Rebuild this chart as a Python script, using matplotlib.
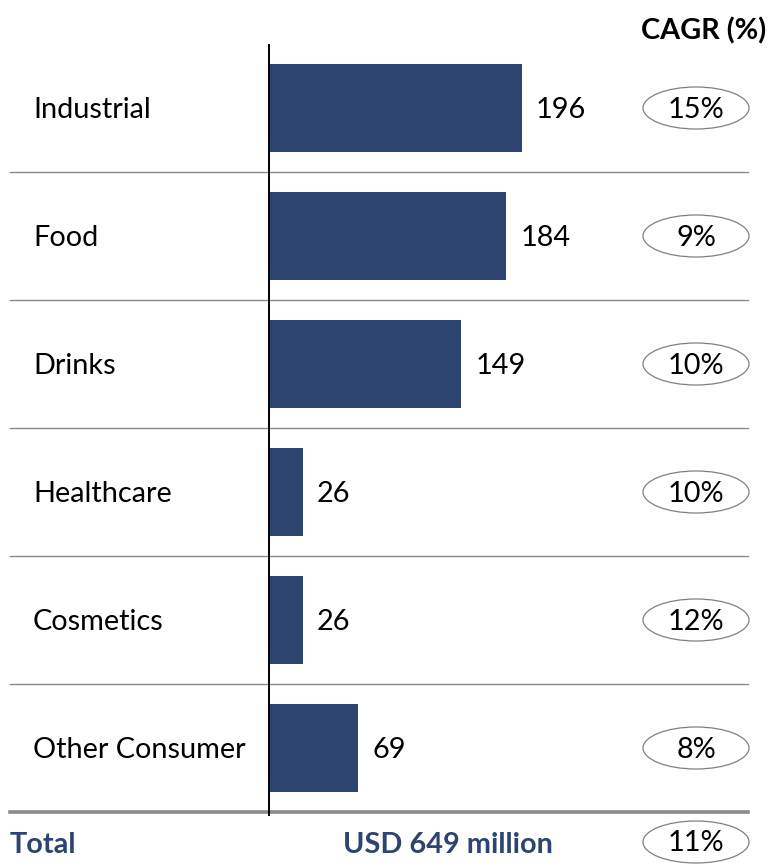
import matplotlib
matplotlib.use("Agg")
import matplotlib.pyplot as plt
from matplotlib.patches import Ellipse

categories = ["Industrial", "Food", "Drinks", "Healthcare", "Cosmetics", "Other Consumer"]
values = [196, 184, 149, 26, 26, 69]
cagr = ["15%", "9%", "10%", "10%", "12%", "8%"]
total_label = "Total"
total_value = "USD 649 million"
total_cagr = "11%"
header = "CAGR (%)"

W, H = 772, 865
px_per_unit = 1.29
row_px = 128
x0_px = 269
y0_px = 108

bar_color = "#2E4470"
fam = ["Lato", "DejaVu Sans"]

fig = plt.figure(figsize=(W / 100, H / 100), dpi=100)
ax = fig.add_axes([0, 0, 1, 1])
ax.set_xlim(-x0_px / px_per_unit, (W - x0_px) / px_per_unit)
ax.set_ylim((H - y0_px) / row_px, -y0_px / row_px)
ax.axis("off")

def px_x(p):
    return (p - x0_px) / px_per_unit

def px_y(p):
    return (p - y0_px) / row_px

ypos = list(range(len(categories)))
ax.barh(ypos, values, height=88 / row_px, color=bar_color, zorder=2)

fs = 20.8
dy = 2 / row_px
ell_cx = px_x(696)
ell_w = 106 / px_per_unit
ell_h = 42 / row_px
for i, (c, v, g) in enumerate(zip(categories, values, cagr)):
    ax.text(px_x(33), i + dy, c, ha="left", va="center", fontsize=fs, family=fam, color="black")
    ax.text(v + 14 / px_per_unit, i + dy, str(v), ha="left", va="center", fontsize=fs, family=fam, color="black")
    ax.add_patch(Ellipse((ell_cx, i), ell_w, ell_h, facecolor="white", edgecolor="#808080", lw=0.9, zorder=3))
    ax.text(ell_cx, i + dy, g, ha="center", va="center", fontsize=fs, family=fam, color="black", zorder=4)

for i in range(len(categories) - 1):
    ax.plot([px_x(10), px_x(748)], [i + 0.5, i + 0.5], color="#8a8a8a", lw=1.0, zorder=1)
ax.plot([px_x(10), px_x(748)], [len(categories) - 0.5] * 2, color="#8a8a8a", lw=2.6, zorder=1)

ax.plot([0, 0], [px_y(45), len(categories) - 0.5 + 0.02], color="black", lw=1.4, zorder=5)

ty = px_y(845)
ax.text(px_x(10), ty, total_label, ha="left", va="center", fontsize=fs, family=fam,
        fontweight="bold", color=bar_color)
ax.text(px_x(448), ty, total_value, ha="center", va="center", fontsize=fs, family=fam,
        fontweight="bold", color=bar_color)
ax.add_patch(Ellipse((ell_cx, px_y(842)), ell_w, ell_h, facecolor="white", edgecolor="#808080", lw=0.9, zorder=3))
ax.text(ell_cx, px_y(843), total_cagr, ha="center", va="center", fontsize=fs, family=fam, color="black", zorder=4)

ax.text(px_x(766), px_y(31), header, ha="right", va="center", fontsize=fs, family=fam,
        fontweight="bold", color="black")

fig.savefig("out.png", dpi=100)
